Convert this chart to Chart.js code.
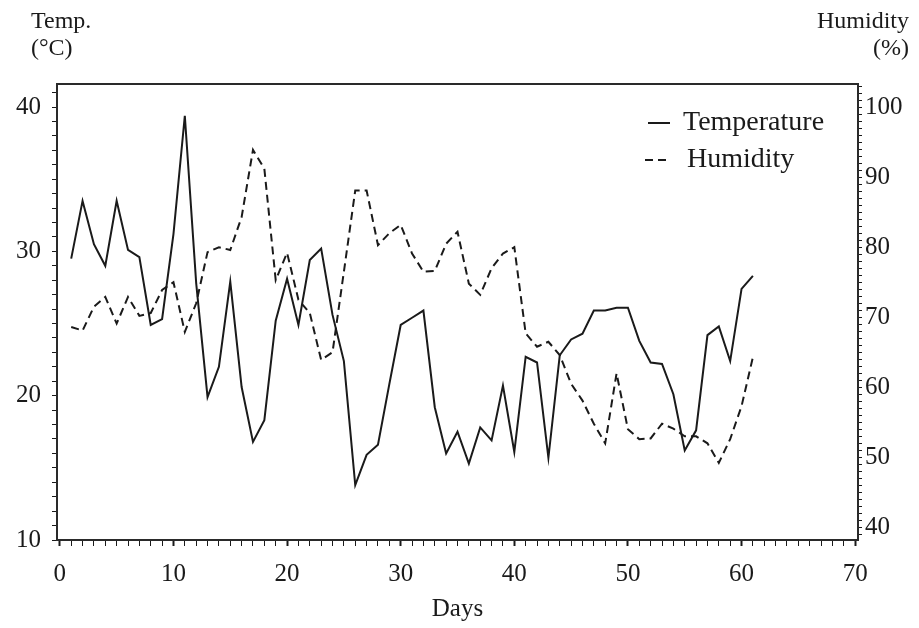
<!DOCTYPE html>
<html><head><meta charset="utf-8">
<script src="https://cdn.jsdelivr.net/npm/chart.js@4/dist/chart.umd.min.js"></script>
<style>html,body{margin:0;padding:0;background:#fff;}#wrap{width:919px;height:628px;}</style>
</head><body><div id="wrap"><canvas id="c" width="919" height="628"></canvas></div>
<script>
const days = [1,2,3,4,5,6,7,8,9,10,11,12,13,14,15,16,17,18,19,20,21,22,23,24,25,26,27,28,29,30,31,32,33,34,35,36,37,38,39,40,41,42,43,44,45,46,47,48,49,50,51,52,53,54,55,56,57,58,59,60,61];
const temperature = [29.5,33.5,30.5,29.0,33.5,30.1,29.6,24.9,25.3,31.2,39.4,27.8,19.9,22.0,27.9,20.6,16.8,18.3,25.2,28.1,24.9,29.4,30.2,25.6,22.4,13.8,15.9,16.6,20.8,24.9,25.4,25.9,19.2,16.0,17.5,15.3,17.8,16.9,20.7,16.1,22.7,22.3,15.7,22.8,23.9,24.3,25.9,25.9,26.1,26.1,23.8,22.3,22.2,20.1,16.2,17.6,24.2,24.8,22.4,27.4,28.3];
const humidity = [68.6,68.1,71.5,72.9,69.1,72.9,70.2,70.6,73.9,75.0,67.9,72.0,79.3,80.0,79.6,84.3,93.9,91.2,75.3,79.2,72.5,70.6,63.9,65.0,76.5,88.1,88.1,80.3,82.0,83.2,79.1,76.5,76.6,80.5,82.2,74.8,73.2,77.0,79.1,80.0,67.7,65.8,66.5,64.6,60.5,58.1,54.8,52.0,62.0,54.0,52.6,52.7,54.8,54.1,53.0,53.0,52.0,49.2,52.6,57.3,64.3];
const xTickLabels = [0,10,20,30,40,50,60,70];
const tempTickLabels = [10,20,30,40];
const humTickLabels = [40,50,60,70,80,90,100];
const seriesNames = ['Temperature','Humidity'];

const FONT = 'Liberation Serif, Times New Roman, serif';
const INK = '#1a1a1a';

const textPlugin = {
  id: 'texts',
  beforeDraw(chart) {
    const ctx = chart.ctx;
    ctx.save();
    ctx.fillStyle = '#fff';
    ctx.fillRect(0, 0, chart.width, chart.height);
    ctx.restore();
  },
  afterDraw(chart) {
    const ctx = chart.ctx;
    const a = chart.chartArea;
    ctx.save();
    ctx.strokeStyle = '#2a2a2a';
    ctx.lineWidth = 2;
    ctx.strokeRect(a.left, a.top, a.right - a.left, a.bottom - a.top);
    ctx.fillStyle = INK;
    ctx.font = '24px ' + FONT;
    ctx.textBaseline = 'middle';
    ctx.textAlign = 'left';
    ctx.fillText('Temp.', 31, 22);
    ctx.fillText('(\u00B0C)', 31, 49);
    ctx.textAlign = 'right';
    ctx.fillText('Humidity', 909, 22);
    ctx.fillText('(%)', 909, 49);
    // legend
    ctx.font = '28px ' + FONT;
    ctx.textAlign = 'left';
    const ds = chart.data.datasets;
    const rows = [{y: 123, x0: 648, x1: 670, tx: 683}, {y: 160, x0: 645, x1: 670, tx: 687}];
    ds.forEach((d, i) => {
      const r = rows[i];
      ctx.strokeStyle = INK;
      ctx.lineWidth = 2;
      ctx.setLineDash(d.borderDash || []);
      ctx.beginPath();
      ctx.moveTo(r.x0, r.y);
      ctx.lineTo(r.x1, r.y);
      ctx.stroke();
      ctx.setLineDash([]);
      ctx.fillText(d.label, r.tx, r.y);
    });
    ctx.restore();
  }
};

const intOnly = s => { s.ticks = s.ticks.filter(t => Number.isInteger(t.value)); };

new Chart(document.getElementById('c'), {
  type: 'line',
  data: {
    datasets: [
      {label: seriesNames[0], data: days.map((d, i) => ({x: d, y: temperature[i]})), yAxisID: 'y',
       borderColor: INK, borderWidth: 2, pointRadius: 0, tension: 0, fill: false},
      {label: seriesNames[1], data: days.map((d, i) => ({x: d, y: humidity[i]})), yAxisID: 'y2',
       borderColor: INK, borderWidth: 2, borderDash: [8, 5], pointRadius: 0, tension: 0, fill: false}
    ]
  },
  options: {
    responsive: false,
    devicePixelRatio: 1,
    animation: false,
    layout: {padding: {top: 84, left: 0, right: 0, bottom: 0}},
    plugins: {legend: {display: false}, tooltip: {enabled: false}},
    scales: {
      x: {
        type: 'linear', position: 'bottom', min: -0.25, max: 70.25,
        afterBuildTicks: intOnly,
        afterFit: s => { s.height = 88; },
        ticks: {stepSize: 1, includeBounds: false, autoSkip: false, maxRotation: 0, padding: 13, color: INK,
                font: {family: FONT, size: 25},
                callback: v => xTickLabels.includes(v) ? String(v) : ''},
        grid: {drawOnChartArea: false, tickLength: 6, color: INK,
               tickWidth: c => (c.tick && c.tick.value % 10 === 0) ? 2 : 1},
        border: {display: false},
        title: {display: true, text: 'Days', color: INK, font: {family: FONT, size: 25}, padding: {top: 0, bottom: 4}}
      },
      y: {
        type: 'linear', position: 'left', min: 10, max: 41.6,
        afterBuildTicks: intOnly,
        afterFit: s => { s.width = 57; },
        ticks: {stepSize: 1, includeBounds: false, autoSkip: false, padding: 11, color: INK,
                font: {family: FONT, size: 25},
                callback: v => tempTickLabels.includes(v) ? String(v) : ''},
        grid: {drawOnChartArea: false, tickLength: 5, color: INK},
        border: {display: false}
      },
      y2: {
        type: 'linear', position: 'right', min: 38.2, max: 103.3,
        afterBuildTicks: intOnly,
        afterFit: s => { s.width = 61; },
        ticks: {stepSize: 1, includeBounds: false, autoSkip: false, padding: 3, color: INK,
                font: {family: FONT, size: 25},
                callback: v => humTickLabels.includes(v) ? String(v) : ''},
        grid: {drawOnChartArea: false, tickLength: 4, color: INK},
        border: {display: false}
      }
    }
  },
  plugins: [textPlugin]
});
</script>
</body></html>
